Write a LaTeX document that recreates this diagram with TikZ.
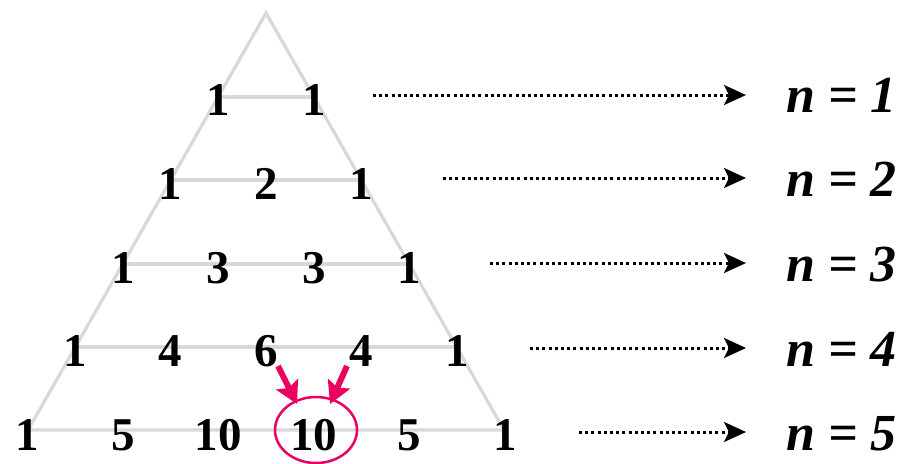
\documentclass[tikz,border=0pt]{standalone}
\usepackage{fontspec}
\setmainfont{Liberation Serif}
\usetikzlibrary{arrows.meta}
\definecolor{trigray}{RGB}{216,216,216}
\definecolor{pinkred}{RGB}{235,0,95}
\tikzset{
  num/.style={anchor=base, inner sep=0pt, font=\fontsize{47}{50}\selectfont\bfseries},
  lab/.style={anchor=base west, inner sep=0pt, font=\fontsize{52}{56}\selectfont\bfseries\itshape},
  edge/.style={trigray, line width=3.2pt},
  dotarrow/.style={black, line width=3pt, dash pattern=on 3pt off 3.2pt,
    -{Stealth[length=22pt,width=20pt,inset=5pt]}},
  pinkarrow/.style={pinkred, line width=6pt, -{Stealth[length=22pt,width=24pt,inset=4pt]}},
  ring/.style={pinkred, line width=2.5pt}
}
\begin{document}
\begin{tikzpicture}[x=1pt,y=-1pt]
\useasboundingbox (0,0) rectangle (912,463);
% triangle
\coordinate (apex) at (266,13);
\coordinate (bl) at (28,430);
\coordinate (br) at (504,430);
\draw[edge, line join=miter] (bl) -- (apex) -- (br) -- cycle;
\foreach \r/\y in {1/97,2/180,3/264,4/347} {
  \pgfmathsetmacro{\hw}{0.5707*(\y-13)}
  \draw[edge] (266-\hw,\y) -- (266+\hw,\y);
}
% numbers
\foreach \k/\t in {0/1,1/1} \node[num] (n1\k) at ({266+95.5*(\k-0.5)},115) {\t};
\foreach \k/\t in {0/1,1/2,2/1} \node[num] (n2\k) at ({266+95.5*(\k-1)},199) {\t};
\foreach \k/\t in {0/1,1/3,2/3,3/1} \node[num] (n3\k) at ({266+95.5*(\k-1.5)},283) {\t};
\foreach \k/\t in {0/1,1/4,2/6,3/4,4/1} \node[num] (n4\k) at ({266+95.5*(\k-2)},366) {\t};
\foreach \k/\t in {0/1,1/5,2/10,3/10,4/5,5/1} \node[num] (n5\k) at ({266+95.5*(\k-2.5)},450) {\t};
% ring and pink arrows
\coordinate (rc) at (316,430);
\draw[ring] (rc) ellipse [x radius=41pt, y radius=33pt];
\coordinate (pa1) at (278,366);
\coordinate (pb1) at (297,404);
\coordinate (pa2) at (347,366);
\coordinate (pb2) at (330,404);
\draw[pinkarrow] (pa1) -- (pb1);
\draw[pinkarrow] (pa2) -- (pb2);
% labels
\node[lab] (l1) at (786,112) {n = 1};
\node[lab] (l2) at (786,196) {n = 2};
\node[lab] (l3) at (786,281) {n = 3};
\node[lab] (l4) at (786,366) {n = 4};
\node[lab] (l5) at (786,450) {n = 5};
% dotted arrows
\coordinate (s1) at (373,95);  \coordinate (e1) at (746,95);
\coordinate (s2) at (443,178); \coordinate (e2) at (746,178);
\coordinate (s3) at (490,263); \coordinate (e3) at (746,263);
\coordinate (s4) at (530,348); \coordinate (e4) at (746,348);
\coordinate (s5) at (579,432); \coordinate (e5) at (746,432);
\foreach \i in {1,...,5} \draw[dotarrow] (s\i) -- (e\i);
\end{tikzpicture}
\end{document}
